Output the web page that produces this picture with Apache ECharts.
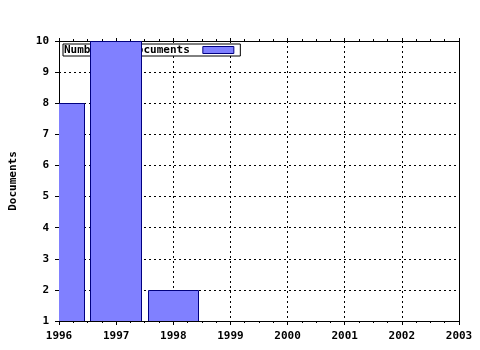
<!DOCTYPE html>
<html>
<head>
<meta charset="utf-8">
<script src="https://cdn.jsdelivr.net/npm/echarts@6/dist/echarts.min.js"></script>
<style>html,body{margin:0;padding:0;background:#fff}#c{width:480px;height:350px}</style>
</head>
<body>
<div id="c"></div>
<script>
const years = [1996, 1997, 1998];
const docs = [8, 10, 2];
const seriesName = 'Number of documents';
const yTitle = 'Documents';

const font = 'DejaVu Sans Mono';
const txt = { fontFamily: font, fontWeight: 'bold', fontSize: 11, color: '#000' };
const barFill = '#8080ff';
const barStroke = '#000080';
const chart = echarts.init(document.getElementById('c'), null, { renderer: 'canvas' });
chart.setOption({
  animation: false,
  backgroundColor: '#fff',
  grid: { left: 57, right: 21, top: 41, bottom: 29, containLabel: false },
  legend: {
    show: true, z: 1, left: 63, top: 44,
    orient: 'horizontal', align: 'right',
    backgroundColor: '#fff', borderColor: '#000', borderWidth: 1,
    padding: [0, 6, 0, 1],
    itemWidth: 31, itemHeight: 7,
    icon: 'rect',
    itemStyle: { color: barFill, borderColor: barStroke, borderWidth: 1 },
    textStyle: Object.assign({}, txt, { lineHeight: 12, padding: [0, 8, 0, 0] }),
    data: [seriesName]
  },
  xAxis: [{
    type: 'value', min: 1996, max: 2003, interval: 1, position: 'bottom',
    axisLine: { show: true, onZero: false, lineStyle: { color: '#000', width: 1 } },
    axisTick: { show: true, length: 4, lineStyle: { color: '#000' } },
    minorTick: { show: true, splitNumber: 4, length: 2, lineStyle: { color: '#000' } },
    axisLabel: Object.assign({}, txt, { margin: 10, formatter: v => String(v) }),
    splitLine: { show: true, lineStyle: { color: '#000', type: [2, 3], width: 1 } }
  }, {
    type: 'value', min: 1996, max: 2003, interval: 1, position: 'top',
    axisLine: { show: true, onZero: false, lineStyle: { color: '#000', width: 1 } },
    axisTick: { show: true, length: 3, lineStyle: { color: '#000' } },
    minorTick: { show: true, splitNumber: 4, length: 2, lineStyle: { color: '#000' } },
    axisLabel: { show: false },
    splitLine: { show: false }
  }],
  yAxis: [{
    type: 'value', min: 1, max: 10, interval: 1, position: 'left',
    name: yTitle, nameLocation: 'middle', nameGap: 40,
    nameTextStyle: txt,
    axisLine: { show: true, onZero: false, lineStyle: { color: '#000', width: 1 } },
    axisTick: { show: true, length: 4, lineStyle: { color: '#000' } },
    axisLabel: Object.assign({}, txt, { margin: 10 }),
    splitLine: { show: true, lineStyle: { color: '#000', type: [2, 3], width: 1 } }
  }, {
    type: 'value', min: 1, max: 10, interval: 1, position: 'right',
    axisLine: { show: true, onZero: false, lineStyle: { color: '#000', width: 1 } },
    axisTick: { show: false }, axisLabel: { show: false }, splitLine: { show: false }
  }],
  series: [{
    type: 'custom', name: seriesName, z: 3, clip: true,
    xAxisIndex: 0, yAxisIndex: 0,
    itemStyle: { color: barFill, borderColor: barStroke, borderWidth: 1 },
    encode: { x: 0, y: 1 },
    renderItem: function (params, api) {
      const x = api.value(0), y = api.value(1);
      const top = api.coord([x, y]);
      const base = api.coord([x, 1]);
      const w = api.size([1, 0])[0] * 0.9;
      const x0 = Math.round(top[0] - w / 2) + 0.5;
      const x1 = Math.round(top[0] + w / 2) - 0.5;
      const y0 = Math.round(top[1]) + 0.5;
      const y1 = Math.round(base[1]) + 0.5;
      return {
        type: 'rect',
        shape: { x: x0, y: y0, width: x1 - x0, height: y1 - y0 },
        style: { fill: barFill, stroke: barStroke, lineWidth: 1 }
      };
    },
    data: years.map((y, i) => [y, docs[i]])
  }]
});
</script>
</body>
</html>
